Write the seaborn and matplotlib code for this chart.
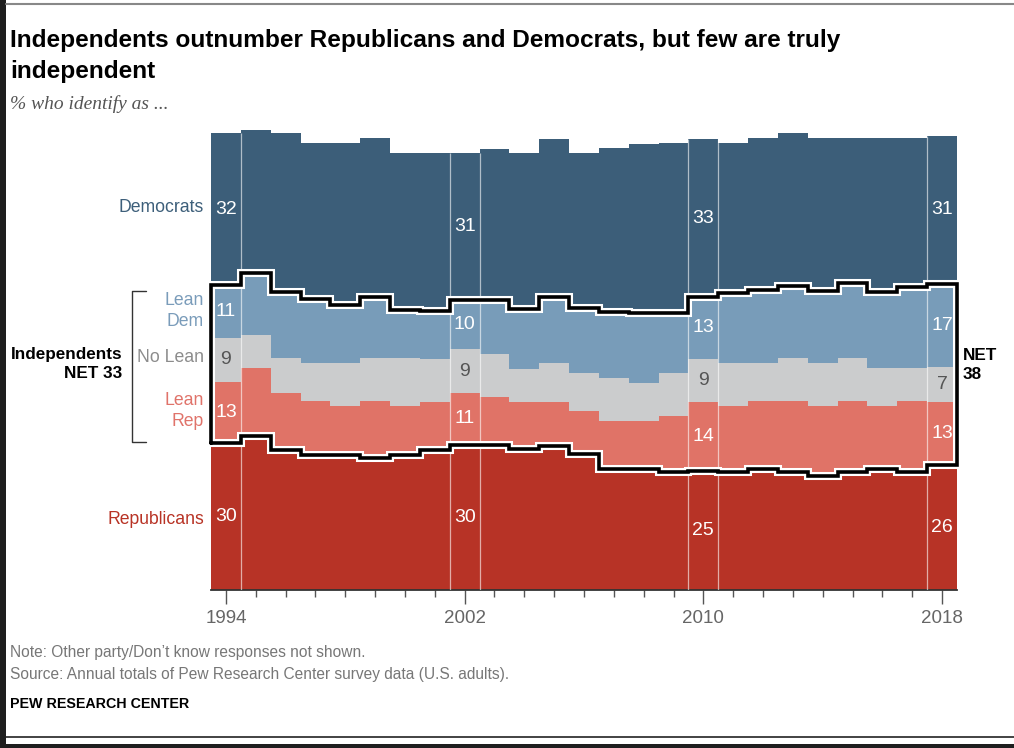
import numpy as np
import pandas as pd
import matplotlib
matplotlib.use("Agg")
import matplotlib.pyplot as plt
import matplotlib.patheffects as pe
from matplotlib.lines import Line2D
from matplotlib.patches import Rectangle
import seaborn as sns

# --- data (% of U.S. adults) ---
years = list(range(1994, 2019))
republicans = [30.4, 32.0, 29.0, 28.0, 28.0, 27.3, 28.0, 28.9, 30.0, 30.0, 29.2, 29.9, 28.2,
               25.0, 25.0, 24.5, 24.6, 24.5, 25.0, 24.5, 23.5, 24.5, 25.0, 24.5, 25.8]
lean_rep = [12.8, 14.0, 11.9, 11.1, 10.2, 11.8, 10.2, 10.1, 10.9, 10.0, 9.8, 9.1, 9.0,
            10.1, 10.1, 11.6, 14.4, 13.7, 14.1, 14.6, 14.7, 14.6, 13.2, 14.6, 13.2]
no_lean = [9.1, 6.9, 7.2, 8.0, 8.9, 9.0, 9.9, 9.0, 9.0, 8.9, 6.9, 8.0, 7.8,
           8.8, 7.9, 8.9, 9.0, 8.9, 8.0, 9.0, 8.9, 9.0, 7.8, 6.9, 7.2]
lean_dem = [11.0, 12.8, 13.8, 13.2, 12.1, 12.8, 10.0, 10.0, 10.2, 11.2, 12.5, 13.8, 13.5,
            13.8, 14.4, 12.5, 12.8, 14.6, 15.2, 14.9, 14.9, 15.6, 15.9, 16.8, 17.4]
democrats = [31.6, 29.9, 33.0, 32.6, 33.6, 32.9, 32.7, 32.7, 30.6, 31.5, 32.3, 32.9, 32.3,
             34.0, 35.3, 35.3, 32.8, 31.2, 31.5, 31.9, 31.9, 30.1, 31.9, 31.0, 30.7]

groups = ["Democrats", "Lean Dem", "No Lean", "Lean Rep", "Republicans"]
side_labels = ["Democrats", "Lean\nDem", "No Lean", "Lean\nRep", "Republicans"]
fill_colors = ["#3c5e79", "#789cb9", "#cbcccd", "#e07367", "#b73326"]
text_colors = ["#3d5f7a", "#7a9cba", "#8c8c8c", "#e0736a", "#b83325"]
label_years = [1994, 2002, 2010, 2018]
major_ticks = [1994, 2002, 2010, 2018]

W, H = 1014, 748

sns.set_style("white")
plt.rcParams["font.family"] = ["Liberation Sans", "DejaVu Sans"]


def fx(px):
    return px / W


def fy(py):
    return 1 - py / H


fig = plt.figure(figsize=(W / 100, H / 100), dpi=100)
ax = fig.add_axes([fx(211), fy(589.5), 746 / W, 481 / H])

series = dict(zip(groups, [democrats, lean_dem, no_lean, lean_rep, republicans]))
df = pd.DataFrame([{"year": y, "group": g, "value": v}
                   for g in groups for y, v in zip(years, series[g])])

sns.histplot(data=df, x="year", weights="value", hue="group", hue_order=groups,
             multiple="stack", element="step", discrete=True,
             palette=dict(zip(groups, fill_colors)), alpha=1, linewidth=0,
             legend=False, ax=ax)

# stack from the bottom: Rep, Lean Rep, No Lean, Lean Dem, Dem
layers = np.array([republicans, lean_rep, no_lean, lean_dem, democrats])
cum = np.cumsum(layers, axis=0)
base = cum - layers
edges = np.arange(years[0] - 0.5, years[-1] + 1.0, 1.0)

# thin white separators around labelled years
for y in label_years:
    i = years.index(y)
    for xe in (y - 0.5, y + 0.5):
        if edges[0] < xe < edges[-1]:
            ax.vlines(xe, 0, cum[4][i], color="white", alpha=0.6, lw=0.9, zorder=4)

# outline around the independents
top, bot = cum[3], cum[0]
xs_step = np.repeat(edges, 2)[1:-1]
xs = np.concatenate([[edges[0]], xs_step, xs_step[::-1], [edges[0]]])
ys = np.concatenate([[bot[0]], np.repeat(top, 2), np.repeat(bot, 2)[::-1], [bot[0]]])
ax.plot(xs, ys, color="black", lw=2.6, solid_joinstyle="miter", clip_on=False, zorder=6,
        path_effects=[pe.Stroke(linewidth=5.8, foreground="white"), pe.Normal()])

# value labels in labelled columns
layer_txt = ["white", "white", "#555555", "white", "white"]
for y in label_years:
    i = years.index(y)
    for k in range(5):
        ax.text(y, base[k][i] + layers[k][i] / 2, f"{layers[k][i]:.0f}", ha="center",
                va="center", fontsize=14, color=layer_txt[k], zorder=7)

ax.set_xlim(edges[0], edges[-1])
ax.set_ylim(0, 100)
ax.set_xlabel("")
ax.set_ylabel("")
ax.set_yticks([])
for s in ["top", "left", "right"]:
    ax.spines[s].set_visible(False)
ax.spines["bottom"].set_color("#333333")
ax.spines["bottom"].set_linewidth(1.3)
ax.set_xticks(major_ticks)
ax.set_xticklabels([str(t) for t in major_ticks])
ax.set_xticks(years, minor=True)
ax.tick_params(axis="x", which="major", length=10, width=1, color="#555555",
               labelsize=13.5, labelcolor="#666666", pad=5, bottom=True)
ax.tick_params(axis="x", which="minor", length=5, width=1, color="#555555", bottom=True)

# side labels (layer names)
label_y = [208, 311, 358, 411, 519]
for k, yy in enumerate(label_y):
    fig.text(fx(204), fy(yy), side_labels[k], ha="right", va="center", fontsize=12.7,
             color=text_colors[k], linespacing=1.25)

# bracket and NET labels
fig.add_artist(Line2D([fx(146), fx(132), fx(132), fx(146)],
                      [fy(291), fy(291), fy(442), fy(442)], color="#333333", lw=1))
fig.text(fx(122), fy(364), "Independents\nNET 33", ha="right", va="center",
         fontsize=12.3, fontweight="bold", color="black", linespacing=1.3)
fig.text(fx(963), fy(365), "NET\n38", ha="left", va="center",
         fontsize=12.3, fontweight="bold", color="black", linespacing=1.3)

# titles
fig.text(fx(10), fy(47.5), "Independents outnumber Republicans and Democrats, but few are truly",
         ha="left", va="baseline", fontsize=17.6, fontweight="bold", color="black")
fig.text(fx(10), fy(78), "independent", ha="left", va="baseline", fontsize=17.6,
         fontweight="bold", color="black")
fig.text(fx(10), fy(109), "% who identify as ...", ha="left", va="baseline", fontsize=14,
         style="italic", family=["Liberation Serif", "DejaVu Serif"], color="#555555")

# notes
fig.text(fx(10), fy(653), "Note: Other party/Don\u2019t know responses not shown.",
         ha="left", va="center", fontsize=11.2, color="#777777")
fig.text(fx(10), fy(675), "Source: Annual totals of Pew Research Center survey data (U.S. adults).",
         ha="left", va="center", fontsize=11.2, color="#777777")
fig.text(fx(10), fy(704), "PEW RESEARCH CENTER", ha="left", va="center", fontsize=10.3,
         fontweight="bold", color="black")

# frame lines of the screenshot
fig.add_artist(Line2D([fx(6), 1], [fy(4), fy(4)], color="#888888", lw=1.5))
fig.add_artist(Line2D([fx(6), 1], [fy(737), fy(737)], color="#222222", lw=1.2))
fig.add_artist(Rectangle((0, 0), fx(6), 1, transform=fig.transFigure, color="#1e1e1e", lw=0))
fig.add_artist(Rectangle((0, 0), 1, 4 / H, transform=fig.transFigure, color="#1e1e1e", lw=0))

fig.savefig("out.png", dpi=100)
